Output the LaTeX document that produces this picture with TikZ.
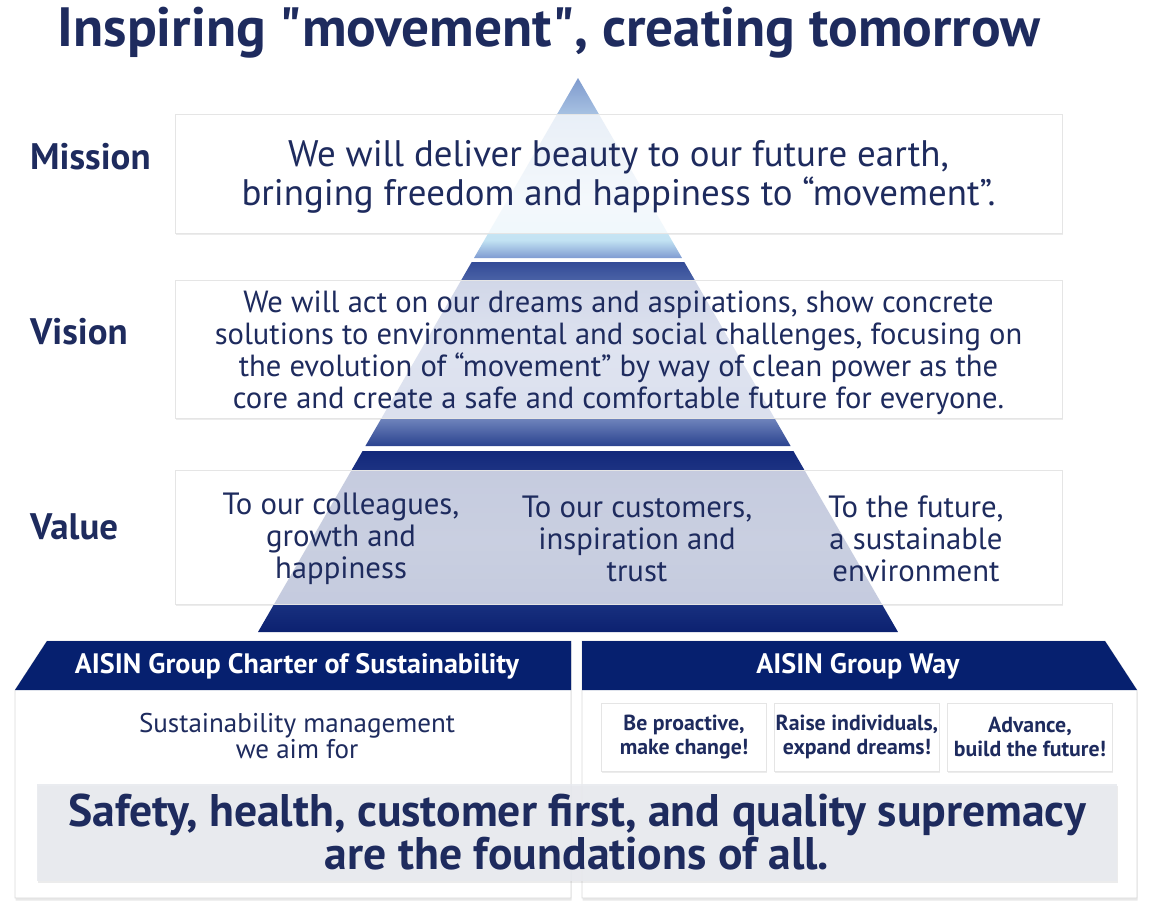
\documentclass[tikz,border=0pt]{standalone}
\usepackage{fontspec}
\setmainfont{PT Sans}
\usetikzlibrary{positioning,shadows}
\definecolor{txtblue}{HTML}{1E2B5E}
\definecolor{hdrblue}{HTML}{06206F}
\definecolor{bannergray}{HTML}{E8EAEF}
\definecolor{topA}{HTML}{7F9BD1}
\definecolor{topB}{HTML}{C2E3F3}
\definecolor{topC}{HTML}{D6E7F5}
\definecolor{topD}{HTML}{A7C1E2}
\definecolor{topE}{HTML}{7E9ACD}
\definecolor{midA}{HTML}{2B438F}
\definecolor{midB}{HTML}{7085BD}
\definecolor{midC}{HTML}{8093C6}
\definecolor{midD}{HTML}{4A62A6}
\definecolor{midE}{HTML}{334B97}
\definecolor{lowA}{HTML}{0C2170}
\definecolor{lowB}{HTML}{18307F}
\definecolor{lowC}{HTML}{2A4288}
\definecolor{lowD}{HTML}{1C3282}
\definecolor{lowE}{HTML}{13297B}
\pgfdeclareverticalshading{segtop}{100bp}{color(0bp)=(topA); color(25bp)=(topA); color(30bp)=(topB); color(41bp)=(topC); color(65bp)=(topD); color(75bp)=(topE); color(100bp)=(topE)}
\pgfdeclareverticalshading{segmid}{100bp}{color(0bp)=(midA); color(25bp)=(midA); color(32.6bp)=(midB); color(51bp)=(midC); color(70bp)=(midD); color(75bp)=(midE); color(100bp)=(midE)}
\pgfdeclareverticalshading{seglow}{100bp}{color(0bp)=(lowA); color(25bp)=(lowA); color(32.7bp)=(lowB); color(50bp)=(lowC); color(70bp)=(lowD); color(75bp)=(lowE); color(100bp)=(lowE)}
\begin{document}
\begin{tikzpicture}[x=0.02cm, y=-0.02cm, node distance={3.46cm}, main/.style = {fill=white, fill opacity=0.75, text opacity=1, draw=black!10, minimum width=17.74cm, text=txtblue, align=center}]
                \tikzstyle{shadowbox} = [fill=white, drop shadow={opacity=0.15, shadow xshift=0.4pt, shadow yshift=-1.2pt}]
                \tikzstyle{side} = [anchor=west, text=txtblue, font=\fontsize{21}{24}\selectfont\bfseries]
                \tikzstyle{colval} = [text=txtblue, align=center, font=\fontsize{17.5}{18.2}\selectfont]
                \tikzstyle{hdr} = [text=white, font=\fontsize{16}{18}\selectfont\bfseries]
                \tikzstyle{waybox} = [fill=white, draw=black!10, minimum width=3.3cm, minimum height=1.36cm, inner sep=0pt, text=txtblue, align=center, font=\fontsize{12.4}{13.6}\selectfont\bfseries, drop shadow={opacity=0.15, shadow xshift=0.4pt, shadow yshift=-1pt}]
                \useasboundingbox (0,0) rectangle (1153,923);

                    \node[text=txtblue, font=\fontsize{31.5}{36}\selectfont\bfseries] (title) at (549,33) {Inspiring \textquotedbl movement\textquotedbl, creating tomorrow};

                    \path[shadowbox] (175,114) rectangle (1062,233);
                    \path[shadowbox] (175,280) rectangle (1062,418);
                    \path[shadowbox] (175,470) rectangle (1062,604);

                    \shade[shading=segtop] (578,78) -- (682,258) -- (474,258) -- cycle;
                    \shade[shading=segmid] (471.7,262) -- (684.3,262) -- (790.6,446) -- (365.4,446) -- cycle;
                    \shade[shading=seglow] (362.6,451) -- (793.4,451) -- (898,632) -- (258,632) -- cycle;

                    \node[main, minimum height=2.38cm] (mission) at (618.5,173.5) {};
                    \node[main, minimum height=2.76cm] (vision) at (618.5,349) {};
                    \node[main, minimum height=2.68cm] (value) at (618.5,537) {};
                    \node[text=txtblue, align=center, font=\fontsize{21}{22}\selectfont] (missiontxt) at (618.5,177) {We will deliver beauty to our future earth,\\ bringing freedom and happiness to “movement”.};
                    \node[text=txtblue, align=center, font=\fontsize{17.4}{18.2}\selectfont] (visiontxt) at (618.5,353) {We will act on our dreams and aspirations, show concrete\\ solutions to environmental and social challenges, focusing on\\ the evolution of “movement” by way of clean power as the\\ core and create a safe and comfortable future for everyone.};
                    \node[colval] (colleagues) at (341,539) {To our colleagues,\\ growth and\\ happiness};
                    \node[colval] (customers) at (637,539) {To our customers,\\ inspiration and\\ trust};
                    \node[colval] (future) at (916,539) {To the future,\\ a sustainable\\ environment};

                    \node[side] (missionlbl) at (24,157) {Mission};
                    \node[side] (visionlbl) at (24,332) {Vision};
                    \node[side] (valuelbl) at (24,527) {Value};

                    \fill[white, draw=black!15, drop shadow={opacity=0.18, shadow xshift=0.4pt, shadow yshift=-1.5pt}] (47,641) -- (571,641) -- (571,898) -- (15,898) -- (15,690) -- cycle;
                    \fill[white, draw=black!15, drop shadow={opacity=0.18, shadow xshift=0.4pt, shadow yshift=-1.5pt}] (582,641) -- (1105,641) -- (1137,690) -- (1137,898) -- (582,898) -- cycle;
                    \fill[hdrblue] (47,641) -- (571,641) -- (571,690) -- (15,690) -- cycle;
                    \fill[hdrblue] (582,641) -- (1105,641) -- (1137,690) -- (582,690) -- cycle;
                    \node[hdr] (charter) at (297,666) {AISIN Group Charter of Sustainability};
                    \node[hdr] (way) at (858,666) {AISIN Group Way};

                    \node[text=txtblue, align=center, font=\fontsize{15.4}{15.3}\selectfont] (aim) at (297,736) {Sustainability management\\ we aim for};

                    \node[waybox] (proactive) at (684,737) {Be proactive,\\ make change!};
                    \node[waybox] (raise) [right of=proactive] {Raise individuals,\\ expand dreams!};
                    \node[waybox] (advance) [right of=raise] {Advance,\\ build the future!};

                    \node[fill=bannergray, fill opacity=0.88, text opacity=1, minimum width=21.6cm, minimum height=1.94cm, text=txtblue, align=center, font=\fontsize{26}{25}\selectfont\bfseries, drop shadow={opacity=0.15, shadow xshift=0.4pt, shadow yshift=-1.2pt}] (banner) at (577,832) {Safety, health, customer first, and quality supremacy\\ are the foundations of all.};

                \end{tikzpicture}
\end{document}
